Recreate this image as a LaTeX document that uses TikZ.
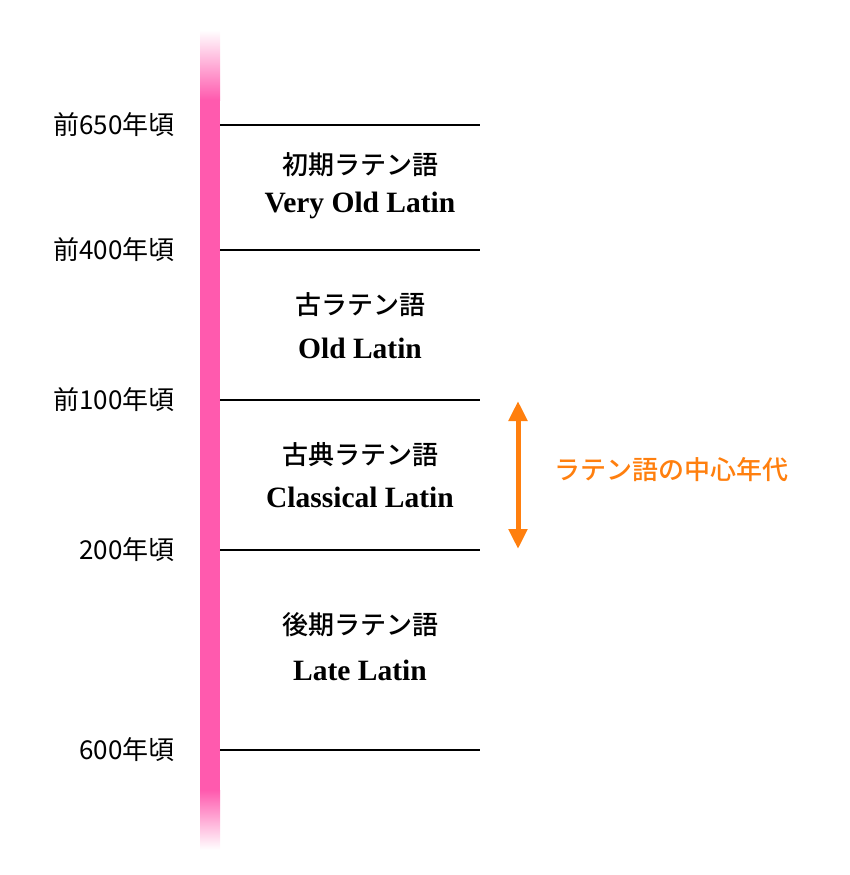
\documentclass[tikz,border=0pt]{standalone}
\usetikzlibrary{arrows.meta}
\usepackage{fontspec}
\newfontfamily\jp{Noto Sans CJK JP}
\newfontfamily\jpm{Noto Sans CJK JP Medium}
\setmainfont{Liberation Serif}
\definecolor{barpink}{HTML}{FF5AAE}
\definecolor{arrorange}{HTML}{FF7F0E}
\begin{document}
\begin{tikzpicture}[x=1pt,y=-1pt,
  tick/.style={line width=2.5pt,black},
  yearlbl/.style={anchor=east,font=\jp\fontsize{26}{30}\selectfont},
  jplbl/.style={font=\jpm\fontsize{26}{30}\selectfont},
  enlbl/.style={font=\bfseries\fontsize{29.5}{34}\selectfont}]
\useasboundingbox (0,0) rectangle (850,875);
\fill[barpink] (200,100) rectangle (220,790);
\shade[top color=white,bottom color=barpink] (200,30) rectangle (220,100);
\shade[top color=barpink,bottom color=white] (200,790) rectangle (220,850);
\foreach \n/\y/\t in {a/125/前650年頃,b/250/前400年頃,c/400/前100年頃,d/550/200年頃,e/750/600年頃}{
  \coordinate (s\n) at (220,\y);
  \coordinate (t\n) at (480,\y);
  \draw[tick] (s\n) -- (t\n);
  \node[yearlbl] (y\n) at (178,\y) {\t};
}
\node[jplbl] (j1) at (360,165) {初期ラテン語};
\node[enlbl] (e1) at (360,205) {Very Old Latin};
\node[jplbl] (j2) at (360,305) {古ラテン語};
\node[enlbl] (e2) at (360,348) {Old Latin};
\node[jplbl] (j3) at (360,455) {古典ラテン語};
\node[enlbl] (e3) at (360,497) {Classical Latin};
\node[jplbl] (j4) at (360,625) {後期ラテン語};
\node[enlbl] (e4) at (360,670) {Late Latin};
\coordinate (a1) at (518,401);
\coordinate (a2) at (518,549);
\draw[arrorange,line width=5pt,{Triangle[length=20pt,width=18pt]}-{Triangle[length=20pt,width=18pt]}] (a1) -- (a2);
\node[font=\jpm\fontsize{26}{30}\selectfont,text=arrorange] (ol) at (671,470) {ラテン語の中心年代};
\end{tikzpicture}
\end{document}
